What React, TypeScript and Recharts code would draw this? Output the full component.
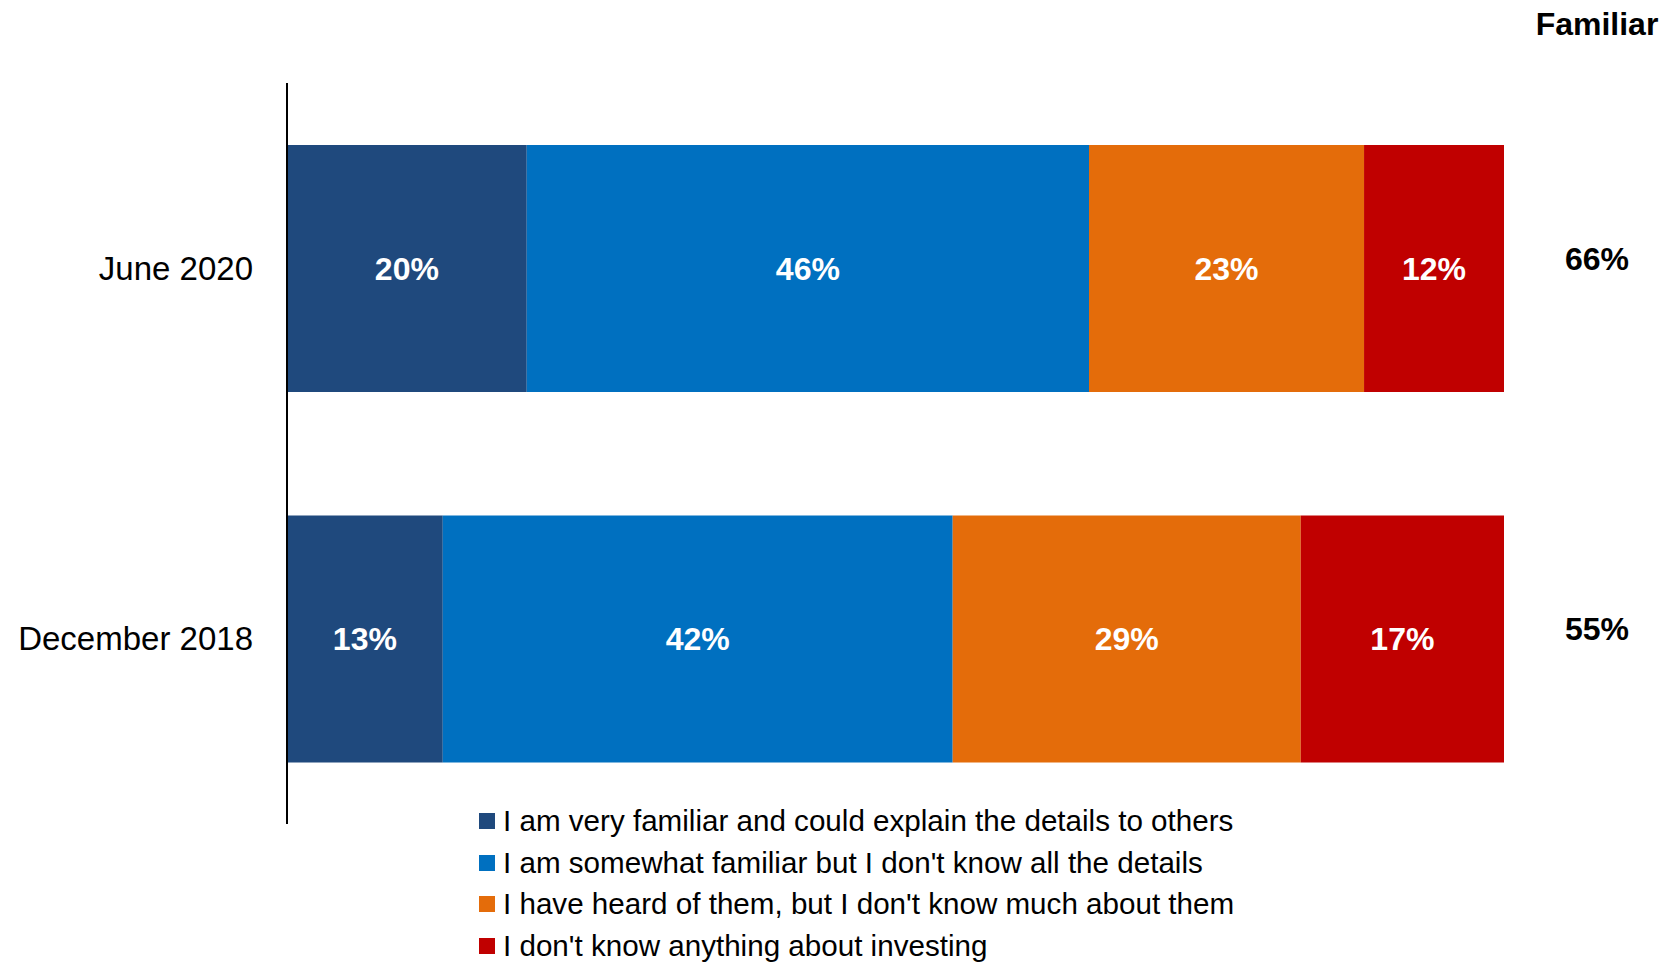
import { BarChart, Bar, XAxis, YAxis, Legend, LabelList } from "recharts"

const periods = ["June 2020", "December 2018"]

const seriesNames = [
  "I am very familiar and could explain the details to others",
  "I am somewhat familiar but I don't know all the details",
  "I have heard of them, but I don't know much about them",
  "I don't know anything about investing",
]

// shares per period, same order as periods
const veryFamiliar = [19.7, 12.8]
const somewhatFamiliar = [46.2, 41.9]
const heardOf = [22.6, 28.6]
const dontKnow = [11.5, 16.7]

const colors = ["#1F497D", "#0070C0", "#E46C0A", "#C00000"]
const keys = ["very", "somewhat", "heard", "none"]

const data = periods.map((period, i) => ({
  period,
  very: veryFamiliar[i],
  somewhat: somewhatFamiliar[i],
  heard: heardOf[i],
  none: dontKnow[i],
}))

const FONT = "'Liberation Sans', Arial, sans-serif"

const pct = (v: any) => `${Math.round(Number(v))}%`

const PeriodTick = (props: any) => {
  const { x, y, payload } = props
  return (
    <text x={x} y={y} textAnchor="end" dominantBaseline="central" fontSize={33} fill="#000" fontFamily={FONT}>
      {payload.value}
    </text>
  )
}

const FamiliarLabel = (props: any) => {
  const { x, y, width, height, index } = props
  const total = Math.round(veryFamiliar[index] + somewhatFamiliar[index])
  return (
    <text
      x={x + width + 93}
      y={y + height / 2 - 10}
      textAnchor="middle"
      dominantBaseline="central"
      fontSize={32}
      fontWeight={700}
      fill="#000"
      fontFamily={FONT}
    >
      {total}%
    </text>
  )
}

const LegendRows = () => (
  <div style={{ fontFamily: FONT, fontSize: 29.6, color: "#000" }}>
    {seriesNames.map((name, i) => (
      <div key={name} style={{ display: "flex", alignItems: "center", height: 41.8, whiteSpace: "nowrap" }}>
        <span style={{ width: 16, height: 16, background: colors[i], marginRight: 8, flex: "none" }} />
        <span>{name}</span>
      </div>
    ))}
  </div>
)

export default function App() {
  return (
    <div style={{ position: "relative", width: 1665, height: 963, background: "#fff", fontFamily: FONT }}>
      <style>{"body{margin:0}"}</style>
      <div
        style={{
          position: "absolute",
          left: 1497,
          top: 8,
          width: 200,
          textAlign: "center",
          fontSize: 32,
          lineHeight: "32px",
          fontWeight: 700,
          color: "#000",
          zIndex: 2,
        }}
      >
        Familiar
      </div>
      <BarChart
        layout="vertical"
        width={1665}
        height={963}
        data={data}
        margin={{ top: 83, right: 161, bottom: 139, left: 0 }}
        barSize={247}
      >
        <XAxis type="number" domain={[0, 100]} hide />
        <YAxis
          type="category"
          dataKey="period"
          width={287}
          axisLine={{ stroke: "#000", strokeWidth: 2 }}
          tickLine={false}
          tickSize={0}
          tickMargin={34}
          tick={<PeriodTick />}
        />
        <Legend
          layout="horizontal"
          align="center"
          verticalAlign="middle"
          wrapperStyle={{ left: 479, top: 800, width: 800 }}
          content={<LegendRows />}
        />
        {keys.map((k, i) => (
          <Bar key={k} dataKey={k} name={seriesNames[i]} stackId="a" fill={colors[i]} isAnimationActive={false}>
            <LabelList
              dataKey={k}
              position="center"
              formatter={pct}
              fill="#fff"
              fontSize={32}
              fontWeight={700}
              fontFamily={FONT}
            />
            {k === "none" && <LabelList dataKey={k} content={<FamiliarLabel />} />}
          </Bar>
        ))}
      </BarChart>
    </div>
  )
}
